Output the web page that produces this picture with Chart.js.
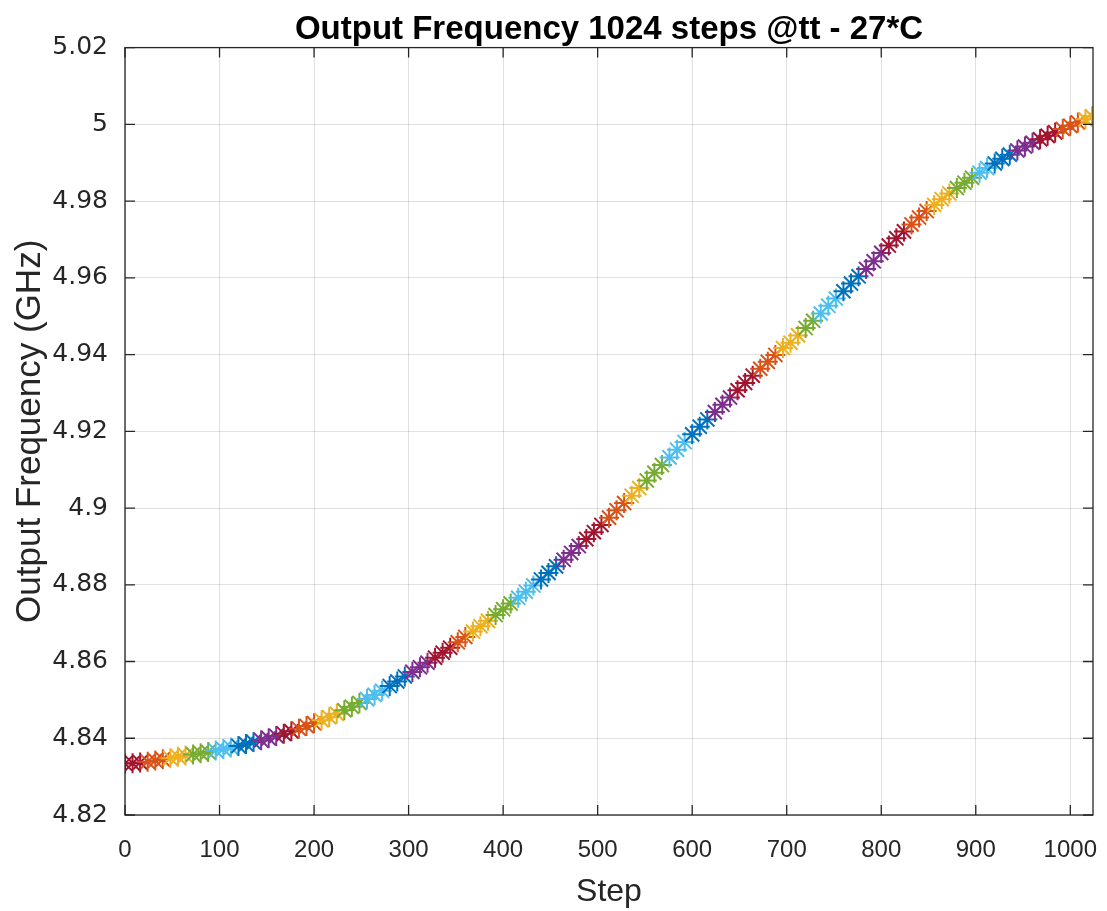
<!DOCTYPE html>
<html>
  <head>
    <title>Output Frequency 1024 steps</title>
    <script src="https://cdn.jsdelivr.net/npm/chart.js"></script>
    <style>
      body {
        margin: 0;
        background: #fff;
      }
      #freqChart {
        display: block;
      }
    </style>
  </head>
  <body>
    <canvas id="freqChart" width="1107" height="911"></canvas>
    <script>
      // Steps sampled along the sweep (every 8th step plus the last one)
      const steps = [
        0, 8, 16, 24, 32, 40, 48, 56, 64, 72, 80, 88, 96, 104, 112, 120,
        128, 136, 144, 152, 160, 168, 176, 184, 192, 200, 208, 216, 224, 232, 240, 248,
        256, 264, 272, 280, 288, 296, 304, 312, 320, 328, 336, 344, 352, 360, 368, 376,
        384, 392, 400, 408, 416, 424, 432, 440, 448, 456, 464, 472, 480, 488, 496, 504,
        512, 520, 528, 536, 544, 552, 560, 568, 576, 584, 592, 600, 608, 616, 624, 632,
        640, 648, 656, 664, 672, 680, 688, 696, 704, 712, 720, 728, 736, 744, 752, 760,
        768, 776, 784, 792, 800, 808, 816, 824, 832, 840, 848, 856, 864, 872, 880, 888,
        896, 904, 912, 920, 928, 936, 944, 952, 960, 968, 976, 984, 992, 1000, 1008, 1016,
        1023
      ];

      // Output frequency in GHz
      const freqGHz = [
        4.8334, 4.8335, 4.8337, 4.8339, 4.8342, 4.8345, 4.8348, 4.8352, 4.8355, 4.8358, 4.8361, 4.8364, 4.8368, 4.8372, 4.8376, 4.8380,
        4.8385, 4.8390, 4.8395, 4.8400, 4.8406, 4.8412, 4.8418, 4.8425, 4.8432, 4.8439, 4.8447, 4.8455, 4.8464, 4.8473, 4.8482, 4.8492,
        4.8502, 4.8513, 4.8524, 4.8536, 4.8548, 4.8561, 4.8573, 4.8585, 4.8597, 4.8610, 4.8623, 4.8636, 4.8650, 4.8664, 4.8678, 4.8692,
        4.8706, 4.8721, 4.8736, 4.8751, 4.8766, 4.8782, 4.8798, 4.8814, 4.8831, 4.8848, 4.8865, 4.8883, 4.8901, 4.8919, 4.8937, 4.8956,
        4.8975, 4.8994, 4.9013, 4.9032, 4.9052, 4.9072, 4.9092, 4.9112, 4.9132, 4.9152, 4.9172, 4.9192, 4.9212, 4.9231, 4.9250, 4.9269,
        4.9288, 4.9307, 4.9326, 4.9345, 4.9363, 4.9381, 4.9399, 4.9417, 4.9431, 4.9450, 4.9469, 4.9488, 4.9507, 4.9527, 4.9546, 4.9565,
        4.9585, 4.9604, 4.9623, 4.9643, 4.9665, 4.9684, 4.9703, 4.9721, 4.9739, 4.9757, 4.9774, 4.9790, 4.9805, 4.9820, 4.9834, 4.9848,
        4.9861, 4.9874, 4.9886, 4.9898, 4.9910, 4.9921, 4.9932, 4.9942, 4.9952, 4.9961, 4.9970, 4.9979, 4.9988, 4.9996, 5.0005, 5.0013,
        5.0021
      ];

      // Axis ticks
      const xTicks = [0, 100, 200, 300, 400, 500, 600, 700, 800, 900, 1000];
      const yTicks = [4.82, 4.84, 4.86, 4.88, 4.90, 4.92, 4.94, 4.96, 4.98, 5.00, 5.02];

      // marker colours, in the order they appear along the band
      const markerColors = ['#A2142F', '#D95319', '#EDB120', '#77AC30', '#4DBEEE', '#0072BD', '#7E2F8E'];

      const points = steps.map((s, i) => ({ x: s, y: freqGHz[i] }));

      // MATLAB-like box with inward tick marks
      const boxPlugin = {
        id: 'boxAxes',
        afterDraw(chart) {
          const { ctx, chartArea } = chart;
          const xs = chart.scales.x;
          const ys = chart.scales.y;
          const len = 10;
          ctx.save();
          ctx.strokeStyle = '#262626';
          ctx.lineWidth = 1.3;
          ctx.strokeRect(chartArea.left, chartArea.top, chartArea.right - chartArea.left, chartArea.bottom - chartArea.top);
          ctx.beginPath();
          xTicks.forEach(v => {
            const px = xs.getPixelForValue(v);
            ctx.moveTo(px, chartArea.bottom);
            ctx.lineTo(px, chartArea.bottom - len);
            ctx.moveTo(px, chartArea.top);
            ctx.lineTo(px, chartArea.top + len);
          });
          yTicks.forEach(v => {
            const py = ys.getPixelForValue(v);
            ctx.moveTo(chartArea.left, py);
            ctx.lineTo(chartArea.left + len, py);
            ctx.moveTo(chartArea.right, py);
            ctx.lineTo(chartArea.right - len, py);
          });
          ctx.stroke();
          ctx.restore();
        }
      };

      const tickLabel = v => String(Number(v.toFixed(2)));

      new Chart(document.getElementById('freqChart'), {
        type: 'scatter',
        data: {
          datasets: [{
            data: points,
            pointStyle: 'star',
            pointRadius: 10,
            pointBorderWidth: 2,
            pointBorderColor: c => markerColors[Math.floor(steps[c.dataIndex] / 23) % markerColors.length],
            pointBackgroundColor: 'transparent'
          }]
        },
        options: {
          responsive: false,
          animation: false,
          layout: { padding: { left: 0, right: 14, top: 0, bottom: 0 } },
          plugins: {
            legend: { display: false },
            tooltip: { enabled: false },
            title: {
              display: true,
              fullSize: false,
              text: 'Output Frequency 1024 steps @tt - 27*C',
              color: '#000',
              font: { family: 'Liberation Sans, Arial, sans-serif', size: 33, weight: 'bold' },
              padding: { top: 10, bottom: -2 }
            }
          },
          scales: {
            x: {
              type: 'linear',
              min: 0,
              max: 1024,
              afterBuildTicks: s => { s.ticks = xTicks.map(v => ({ value: v })); },
              afterFit: s => { s.height = 96; s.paddingLeft = 0; s.paddingRight = 0; },
              grid: { color: 'rgba(0,0,0,0.12)', drawTicks: false },
              border: { display: false },
              ticks: {
                maxRotation: 0,
                padding: 21,
                color: '#262626',
                callback: v => String(v),
                font: { family: 'Liberation Sans, Arial, sans-serif', size: 24 }
              },
              title: {
                display: true,
                text: 'Step',
                color: '#262626',
                font: { family: 'Liberation Sans, Arial, sans-serif', size: 32 },
                padding: { top: 0, bottom: 0 }
              }
            },
            y: {
              min: 4.82,
              max: 5.02,
              afterBuildTicks: s => { s.ticks = yTicks.map(v => ({ value: v })); },
              afterFit: s => { s.width = 125; s.paddingTop = 0; s.paddingBottom = 0; },
              grid: { color: 'rgba(0,0,0,0.12)', drawTicks: false },
              border: { display: false },
              ticks: {
                padding: 17,
                color: '#262626',
                callback: tickLabel,
                font: { family: 'DejaVu Sans, sans-serif', size: 25 }
              },
              title: {
                display: true,
                text: 'Output Frequency (GHz)',
                color: '#262626',
                font: { family: 'Liberation Sans, Arial, sans-serif', size: 35 },
                padding: { top: 9, bottom: 0 }
              }
            }
          }
        },
        plugins: [boxPlugin]
      });
    </script>
  </body>
</html>
